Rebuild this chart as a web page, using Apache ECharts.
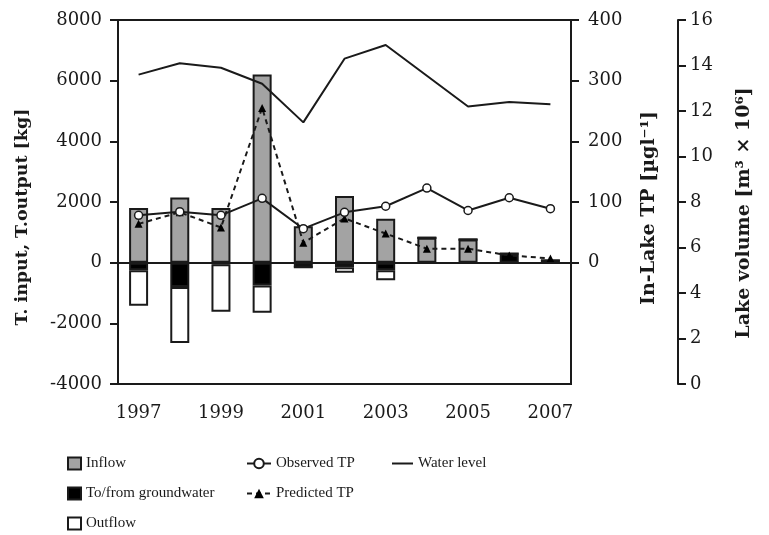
<!DOCTYPE html>
<html>
<head>
<meta charset="utf-8">
<script src="https://cdn.jsdelivr.net/npm/echarts@6/dist/echarts.min.js"></script>
<style>
  html, body { margin: 0; padding: 0; background: #fff; }
  #chart { width: 769px; height: 535px; }
</style>
</head>
<body>
<div id="chart"></div>
<script>
// 数据
var years = ['1997', '1998', '1999', '2000', '2001', '2002', '2003', '2004', '2005', '2006', '2007'];
var inflow = [1800, 2150, 1800, 6200, 1200, 2200, 1450, 820, 760, 0, 0];
var groundwater = [-250, -800, -50, -750, -150, -150, -250, 0, 0, 300, 80];
var outflow = [-1170, -1850, -1570, -900, 0, -180, -330, 0, 0, 0, 0];
var observedTP = [78, 84, 78, 106, 56, 83, 93, 123, 86, 107, 89];
var predictedTP = [64, 83, 58, 255, 33, 73, 48, 23, 23, 12, 7];
var lakeVolume = [13.6, 14.1, 13.9, 13.2, 11.5, 14.3, 14.9, 13.55, 12.2, 12.4, 12.3];

var AXIS_FONT = '"DejaVu Serif", serif';
var LEGEND_FONT = '"Liberation Serif", serif';
var INK = '#1a1a1a';

var chart = echarts.init(document.getElementById('chart'));

var tickText = { fontFamily: AXIS_FONT, fontSize: 18, color: INK };
var titleText = { fontFamily: AXIS_FONT, fontSize: 19, fontWeight: 'bold', color: INK };
var legendText = { fontFamily: LEGEND_FONT, fontSize: 15, color: INK };

function plain(v) { return String(v); }

chart.setOption({
    animation: false,
    grid: {
        left: 118, right: 198, top: 20, bottom: 151,
        show: true,
        borderColor: INK,
        borderWidth: 2,
        backgroundColor: 'transparent'
    },
    legend: [
        {
            orient: 'vertical', left: 62, top: 451, height: 84,
            itemWidth: 13, itemHeight: 12, itemGap: 15,
            icon: 'rect',
            textStyle: legendText,
            data: ['Inflow', 'To/from groundwater', 'Outflow']
        },
        {
            orient: 'vertical', left: 241, top: 451, height: 84,
            itemWidth: 24, itemHeight: 12, itemGap: 15,
            textStyle: legendText,
            data: ['Observed TP', 'Predicted TP']
        },
        {
            orient: 'vertical', left: 387, top: 451,
            itemWidth: 21, itemHeight: 2,
            icon: 'rect',
            itemStyle: { color: INK },
            textStyle: legendText,
            data: ['Water level']
        }
    ],
    xAxis: {
        type: 'category',
        data: years,
        boundaryGap: true,
        axisLine: { onZero: false, lineStyle: { color: INK, width: 2 } },
        axisTick: { alignWithLabel: true, interval: 0, length: 7, lineStyle: { color: INK, width: 2 } },
        axisLabel: Object.assign({ interval: 1, margin: 20 }, tickText),
        splitLine: { show: false }
    },
    yAxis: [
        {
            type: 'value',
            min: -4000, max: 8000, interval: 2000,
            name: 'T. input, T.output [kg]',
            nameLocation: 'middle',
            nameGap: 87,
            nameTextStyle: Object.assign({}, titleText, { fontSize: 17.5, padding: [0, 30, 0, 0] }),
            axisLine: { show: true, lineStyle: { color: INK, width: 2 } },
            axisTick: { show: true, length: 8, lineStyle: { color: INK, width: 2 } },
            axisLabel: Object.assign({ margin: 16, formatter: plain }, tickText),
            splitLine: { show: false }
        },
        {
            type: 'value',
            position: 'right',
            min: -200, max: 400, interval: 100,
            name: 'In-Lake TP [µgl⁻¹]',
            nameLocation: 'middle',
            nameGap: 69,
            nameTextStyle: Object.assign({ padding: [0, 12, 0, 0] }, titleText),
            axisLine: { show: true, lineStyle: { color: INK, width: 2 } },
            axisTick: { show: true, length: 8, customValues: [0, 100, 200, 300, 400], lineStyle: { color: INK, width: 2 } },
            axisLabel: Object.assign({ margin: 17, customValues: [0, 100, 200, 300, 400], formatter: plain }, tickText),
            splitLine: { show: false }
        },
        {
            type: 'value',
            position: 'right',
            offset: 107,
            min: 0, max: 16, interval: 2,
            name: 'Lake volume [m³ × 10⁶]',
            nameLocation: 'middle',
            nameGap: 57,
            nameTextStyle: Object.assign({ padding: [0, 22, 0, 0] }, titleText),
            axisLine: { show: true, lineStyle: { color: INK, width: 2 } },
            axisTick: { show: true, length: 8, lineStyle: { color: INK, width: 2 } },
            axisLabel: Object.assign({ margin: 12, formatter: plain }, tickText),
            splitLine: { show: false }
        }
    ],
    series: [
        {
            name: 'Inflow',
            type: 'bar',
            stack: 'flux',
            barWidth: 19,
            data: inflow,
            itemStyle: { color: '#a3a3a3', borderColor: INK, borderWidth: 2 },
            markLine: {
                silent: true,
                symbol: 'none',
                label: { show: false },
                lineStyle: { color: INK, width: 2, type: 'solid' },
                data: [{ yAxis: 0 }]
            }
        },
        {
            name: 'To/from groundwater',
            type: 'bar',
            stack: 'flux',
            barWidth: 19,
            data: groundwater,
            itemStyle: { color: '#000', borderColor: INK, borderWidth: 2 }
        },
        {
            name: 'Outflow',
            type: 'bar',
            stack: 'flux',
            barWidth: 19,
            data: outflow,
            itemStyle: { color: '#fff', borderColor: INK, borderWidth: 2 }
        },
        {
            name: 'Predicted TP',
            type: 'line',
            yAxisIndex: 1,
            data: predictedTP,
            symbol: 'triangle',
            symbolSize: 8,
            itemStyle: { color: '#000' },
            lineStyle: { color: INK, width: 2, type: [5, 4] }
        },
        {
            name: 'Observed TP',
            type: 'line',
            yAxisIndex: 1,
            data: observedTP,
            symbol: 'circle',
            symbolSize: 8,
            itemStyle: { color: '#fff', borderColor: INK, borderWidth: 1.5 },
            lineStyle: { color: INK, width: 2 }
        },
        {
            name: 'Water level',
            type: 'line',
            yAxisIndex: 2,
            data: lakeVolume,
            symbol: 'none',
            itemStyle: { color: INK },
            lineStyle: { color: INK, width: 2 }
        }
    ]
});
</script>
</body>
</html>
